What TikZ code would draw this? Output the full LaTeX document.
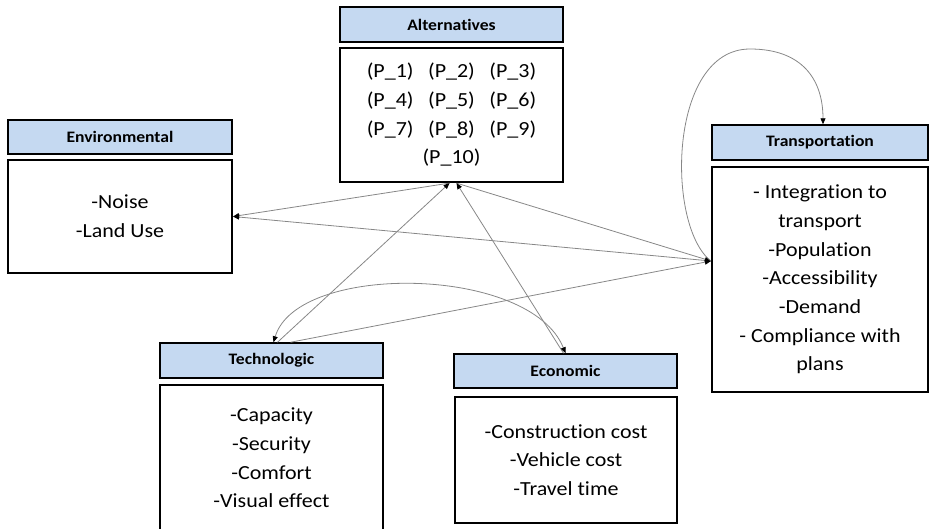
\documentclass[tikz,border=0pt]{standalone}
\usepackage{fontspec}
\setmainfont{Carlito}[FakeStretch=1.1,Ligatures=NoCommon]
\usetikzlibrary{arrows.meta,calc}
\definecolor{hdrblue}{RGB}{197,217,241}
\definecolor{conngray}{RGB}{135,135,135}
\begin{document}
\begin{tikzpicture}[x=1pt,y=-1pt,
  hdr/.style={draw=black, line width=1.5pt, fill=hdrblue, inner sep=0pt,
    font=\bfseries\fontsize{16}{19}\selectfont},
  bodybox/.style={draw=black, line width=2.2pt, fill=white, inner sep=0pt, align=center,
    font=\fontsize{20}{28.7}\selectfont},
  conn/.style={draw=conngray, line width=0.8pt, -{Triangle[length=6pt,width=5pt,color=black]}},
  conn2/.style={draw=conngray, line width=0.8pt, {Triangle[length=6pt,width=5pt,color=black]}-{Triangle[length=6pt,width=5pt,color=black]}}
]
\path[use as bounding box] (0,0) rectangle (930,528);
\clip (0,0) rectangle (930,528);

% Alternatives
\node[hdr, minimum width=223pt, minimum height=35pt] (alth) at (451.5,24.5) {Alternatives};
\node[bodybox, minimum width=223pt, minimum height=134pt] (altb) at (451.5,115)
  {(P\_1)\hspace{14.5pt}(P\_2)\hspace{14.5pt}(P\_3)\\(P\_4)\hspace{14.5pt}(P\_5)\hspace{14.5pt}(P\_6)\\(P\_7)\hspace{14.5pt}(P\_8)\hspace{14.5pt}(P\_9)\\(P\_10)};

% Environmental
\node[hdr, minimum width=224pt, minimum height=34pt] (envh) at (120,137) {Environmental};
\node[bodybox, minimum width=224pt, minimum height=113pt] (envb) at (120,216.5)
  {-Noise\\-Land Use};

% Transportation
\node[hdr, minimum width=216pt, minimum height=35pt] (trh) at (820,142.5) {Transportation};
\node[bodybox, minimum width=216pt, minimum height=225pt] (trb) at (820,279.5)
  {- Integration to\\transport\\-Population\\-Accessibility\\-Demand\\- Compliance with\\plans};

% Technologic
\node[hdr, minimum width=223pt, minimum height=35pt] (tech) at (271.5,360.5) {Technologic};
\node[bodybox, minimum width=223pt, minimum height=146pt] (techb) at (271.5,458)
  {-Capacity\\-Security\\-Comfort\\-Visual effect};

% Economic
\node[hdr, minimum width=223pt, minimum height=34pt] (ecoh) at (565.5,371) {Economic};
\node[bodybox, minimum width=222pt, minimum height=126pt] (ecob) at (566,460)
  {-Construction cost\\-Vehicle cost\\-Travel time};

% connector end points
\coordinate (altS1) at ($(altb.south)+(-2,0)$);
\coordinate (altS2) at ($(altb.south)+(5,0)$);
\coordinate (trW) at ($(trb.west)+(0,-18.5)$);
\coordinate (trN) at ($(trh.north)+(3,0)$);
\coordinate (techN1) at ($(tech.north)+(2,0)$);
\coordinate (techN2) at ($(tech.north)+(6,0)$);
\coordinate (techN3) at ($(tech.north)+(19,0)$);
\coordinate (ecoN1) at ($(ecoh.north)+(-2,0)$);
\coordinate (loopTop) at (750,49);

% connectors
\draw[conn] (altS1) -- (envb.east);
\draw[conn] (trW) -- (envb.east);
\draw[conn] (altS2) -- (trW);
\draw[conn] (techN3) -- (trW);
\draw[conn] (techN2) -- (altS1);
\draw[conn] (ecoN1) -- (altS2);
\draw[conn2] (techN1) .. controls +(24,-80) and +(-35,-88) .. (ecoh.north);
\draw[conn] (trW) .. controls +(-45,-35) and +(-82,0) .. (loopTop)
  .. controls +(52,0) and +(0,-45) .. (trN);
\end{tikzpicture}
\end{document}
